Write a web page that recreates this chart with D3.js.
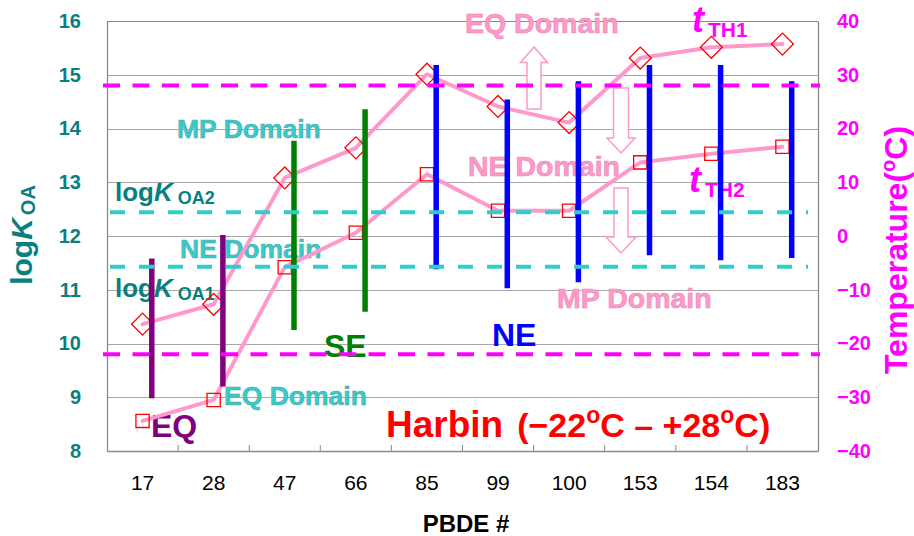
<!DOCTYPE html>
<html>
<head>
<meta charset="utf-8">
<script src="https://cdn.jsdelivr.net/npm/d3@7"></script>
<style>
  body { margin: 0; background: #fff; }
  svg { display: block; font-family: "Liberation Sans", Arial, Helvetica, sans-serif; }
</style>
</head>
<body>
<svg id="chart" width="914" height="536"></svg>
<script>
// PBDE congeners on the category axis
const categories = ["17", "28", "47", "66", "85", "99", "100", "153", "154", "183"];
// Threshold temperatures (°C, right axis)
const tTH1 = [-16.4, -12.7, 10.8, 16.4, 30.1, 24.1, 21.1, 33.1, 35.1, 35.7];
const tTH2 = [-34.4, -30.5, -5.8, 0.6, 11.5, 4.7, 4.7, 13.7, 15.3, 16.6];
// logKOA range over the Harbin temperature span (top = −22 °C, bottom = +28 °C)
const logKoaCold = [11.58, 12.02, 13.77, 14.36, 15.18, 14.54, 14.88, 15.18, 15.18, 14.88];
const logKoaWarm = [8.98, 9.20, 10.25, 10.59, 11.38, 11.03, 11.14, 11.64, 11.55, 11.59];
// Partitioning domain of each congener
const domainClass = ["EQ", "EQ", "SE", "SE", "NE", "NE", "NE", "NE", "NE", "NE"];
// Axis ticks
const logKoaTicks = [8, 9, 10, 11, 12, 13, 14, 15, 16];
const tempTicks = [-40, -30, -20, -10, 0, 10, 20, 30, 40];
// Domain thresholds and the local temperature span
const logKOA1 = 11.43;
const logKOA2 = 12.44;
const tempRange = [-22, 28];

const classColor = { EQ: "#800080", SE: "#008000", NE: "#0000ff" };
const pink = "#ff99cc";
const cyan = "#33cccc";
const teal = "#0a7f7f";
const magenta = "#ff00ff";

const svg = d3.select("#chart");
const plot = { left: 107, right: 818, top: 21, bottom: 451 };

const x = d3.scaleBand().domain(categories).range([plot.left, plot.right]);
const yK = d3.scaleLinear().domain([8, 16]).range([plot.bottom, plot.top]);
const yT = d3.scaleLinear().domain([-40, 40]).range([plot.bottom, plot.top]);
const cx = c => x(c) + x.bandwidth() / 2;

// ---- grid ----
svg.append("g")
  .selectAll("line")
  .data(logKoaTicks.slice(1))
  .join("line")
  .attr("x1", plot.left).attr("x2", plot.right)
  .attr("y1", d => Math.round(yK(d)) + 0.5).attr("y2", d => Math.round(yK(d)) + 0.5)
  .attr("stroke", "#a8a8a8").attr("stroke-width", 1);

// ---- axes ----
const axisStyle = (g, color, size, weight) => {
  g.select(".domain").attr("stroke", "#8a8a8a").attr("stroke-width", 1.3);
  g.selectAll(".tick line").remove();
  g.selectAll("text")
    .attr("fill", color)
    .attr("font-size", size)
    .attr("font-weight", weight)
    .attr("font-family", "Liberation Sans, Arial, sans-serif");
};

svg.append("g")
  .attr("transform", `translate(${plot.left},0)`)
  .call(d3.axisLeft(yK).tickValues(logKoaTicks).tickSize(0).tickPadding(26).tickSizeOuter(0))
  .call(g => axisStyle(g, teal, 20, "bold"));

svg.append("g")
  .attr("transform", `translate(${plot.right},0)`)
  .call(d3.axisRight(yT).tickValues(tempTicks).tickSize(0).tickPadding(19).tickSizeOuter(0))
  .call(g => axisStyle(g, magenta, 20, "bold"));

svg.append("g")
  .attr("transform", `translate(0,${plot.bottom})`)
  .call(d3.axisBottom(x).tickSize(0).tickPadding(24).tickSizeOuter(0))
  .call(g => axisStyle(g, "#000", 21, "normal"));

// category separators on the x axis
svg.append("g")
  .selectAll("line")
  .data(categories.slice(1))
  .join("line")
  .attr("x1", d => x(d)).attr("x2", d => x(d))
  .attr("y1", plot.bottom).attr("y2", plot.bottom - 6)
  .attr("stroke", "#8a8a8a").attr("stroke-width", 1);

// top border
svg.append("line")
  .attr("x1", plot.left).attr("x2", plot.right)
  .attr("y1", plot.top + 0.5).attr("y2", plot.top + 0.5)
  .attr("stroke", "#8a8a8a").attr("stroke-width", 1);

// ---- axis titles ----
const leftTitle = svg.append("text")
  .attr("transform", "translate(32,235) rotate(-90)")
  .attr("text-anchor", "middle")
  .attr("fill", teal).attr("font-weight", "bold").attr("font-size", 30);
leftTitle.append("tspan").text("log");
leftTitle.append("tspan").attr("font-style", "italic").text("K");
leftTitle.append("tspan").attr("font-size", 20).attr("dx", 3).attr("dy", 3).text("OA");

const rightTitle = svg.append("text")
  .attr("transform", "translate(907,250) rotate(-90)")
  .attr("text-anchor", "middle")
  .attr("fill", magenta).attr("font-weight", "bold").attr("font-size", 32);
rightTitle.append("tspan").text("Temperature(");
rightTitle.append("tspan").attr("font-size", 20).attr("dy", -12).text("o");
rightTitle.append("tspan").attr("dy", 12).text("C)");

svg.append("text")
  .attr("x", 466).attr("y", 532)
  .attr("text-anchor", "middle")
  .attr("font-weight", "bold").attr("font-size", 24)
  .text("PBDE #");

// ---- domain annotations ----
const label = (txt, px, py, color, size, extra) => {
  const t = svg.append("text")
    .attr("x", px).attr("y", py)
    .attr("fill", color)
    .attr("font-weight", "bold").attr("font-size", size)
    .text(txt);
  if (extra) extra(t);
  return t;
};
const softEdge = c => t => t.attr("stroke", c).attr("stroke-width", 0.6);

label("MP Domain", 177, 138, cyan, 26.5, softEdge("#5aa8a8"));
label("NE Domain", 180, 258, cyan, 26.5, softEdge("#5aa8a8"));
label("EQ Domain", 224, 405, cyan, 26.5, softEdge("#5aa8a8"));

label("EQ Domain", 465, 33, pink, 28.5, softEdge("#e48ab4"));
label("NE Domain", 468, 176, pink, 28.5, softEdge("#e48ab4"));
label("MP Domain", 557, 308, pink, 28.5, softEdge("#e48ab4"));

// threshold labels logKOA2 / logKOA1
const koaLabel = (sub, px, py) => {
  const t = svg.append("text")
    .attr("x", px).attr("y", py)
    .attr("fill", teal).attr("font-weight", "bold").attr("font-size", 26);
  t.append("tspan").text("log");
  t.append("tspan").attr("font-style", "italic").text("K");
  t.append("tspan").attr("font-size", 18).attr("dx", 5).attr("dy", 3).text(sub);
};
koaLabel("OA2", 115, 201);
koaLabel("OA1", 115, 297);

// tTH labels
const tLabel = (sub, px, py) => {
  const t = svg.append("text")
    .attr("x", px).attr("y", py)
    .attr("fill", magenta).attr("font-weight", "bold").attr("font-size", 36);
  t.append("tspan").attr("font-style", "italic").text("t");
  t.append("tspan").attr("font-size", 21).attr("dx", 4).attr("dy", 5).text(sub);
};
tLabel("TH1", 692, 32);
tLabel("TH2", 689, 192);

// class labels
label("EQ", 151, 437, classColor.EQ, 32);
label("SE", 324, 357, classColor.SE, 32);
label("NE", 492, 346, classColor.NE, 32);

// location label
const harbin = svg.append("text")
  .attr("x", 386).attr("y", 437)
  .attr("fill", "#ff0000").attr("font-weight", "bold");
harbin.append("tspan").attr("font-size", 37).text("Harbin");
harbin.append("tspan").attr("font-size", 34).attr("dx", 14).text("(−22");
harbin.append("tspan").attr("font-size", 23).attr("dy", -14).text("o");
harbin.append("tspan").attr("font-size", 34).attr("dy", 14).text("C – +28");
harbin.append("tspan").attr("font-size", 23).attr("dy", -14).text("o");
harbin.append("tspan").attr("font-size", 34).attr("dy", 14).text("C)");

// hollow arrows pointing towards the domains
const arrow = (ax, yTail, yTip, headW, shaftW, headH) => {
  const dir = yTip < yTail ? -1 : 1;
  const yBase = yTip - dir * headH;
  const pts = [
    [ax - shaftW / 2, yTail], [ax - shaftW / 2, yBase], [ax - headW / 2, yBase],
    [ax, yTip], [ax + headW / 2, yBase], [ax + shaftW / 2, yBase], [ax + shaftW / 2, yTail]
  ];
  svg.append("path")
    .attr("d", d3.line()(pts) + "Z")
    .attr("fill", "#fff").attr("stroke", pink).attr("stroke-width", 1.5)
    .attr("stroke-linejoin", "miter");
};
arrow(534, 109, 47, 27, 14, 15.5);
arrow(621, 88, 153, 28, 15, 15);
arrow(621, 188, 253, 30, 14, 16);

// ---- threshold temperature curves ----
const curve = d3.line().x((d, i) => cx(categories[i])).y(d => yT(d));
[tTH1, tTH2].forEach(series => {
  svg.append("path")
    .attr("d", curve(series))
    .attr("fill", "none").attr("stroke", pink)
    .attr("stroke-width", 4).attr("stroke-linejoin", "round").attr("stroke-linecap", "round");
});

// diamonds for tTH1, squares for tTH2
svg.append("g")
  .selectAll("path")
  .data(tTH1)
  .join("path")
  .attr("d", d3.symbol().type(d3.symbolSquare).size(240)())
  .attr("transform", (d, i) => `translate(${cx(categories[i])},${yT(d)}) rotate(45)`)
  .attr("fill", "none").attr("stroke", "#ff0000").attr("stroke-width", 1.3);

svg.append("g")
  .selectAll("path")
  .data(tTH2)
  .join("path")
  .attr("d", d3.symbol().type(d3.symbolSquare).size(175)())
  .attr("transform", (d, i) => `translate(${cx(categories[i])},${yT(d)})`)
  .attr("fill", "none").attr("stroke", "#ff0000").attr("stroke-width", 1.3);

// ---- logKOA range bars ----
const barShift = x.bandwidth() * 0.13;
svg.append("g")
  .selectAll("line")
  .data(categories)
  .join("line")
  .attr("x1", d => cx(d) + barShift).attr("x2", d => cx(d) + barShift)
  .attr("y1", (d, i) => yK(logKoaCold[i])).attr("y2", (d, i) => yK(logKoaWarm[i]))
  .attr("stroke", (d, i) => classColor[domainClass[i]])
  .attr("stroke-width", 5.5);

// ---- dashed reference lines ----
[logKOA1, logKOA2].forEach(v => {
  svg.append("line")
    .attr("x1", plot.left + 3).attr("x2", plot.right - 10)
    .attr("y1", yK(v)).attr("y2", yK(v))
    .attr("stroke", cyan).attr("stroke-width", 4)
    .attr("stroke-dasharray", "15 14");
});
tempRange.forEach(v => {
  svg.append("line")
    .attr("x1", plot.left - 4).attr("x2", plot.right + 2)
    .attr("y1", yT(v)).attr("y2", yT(v))
    .attr("stroke", magenta).attr("stroke-width", 4)
    .attr("stroke-dasharray", "17 12.5");
});
</script>
</body>
</html>
